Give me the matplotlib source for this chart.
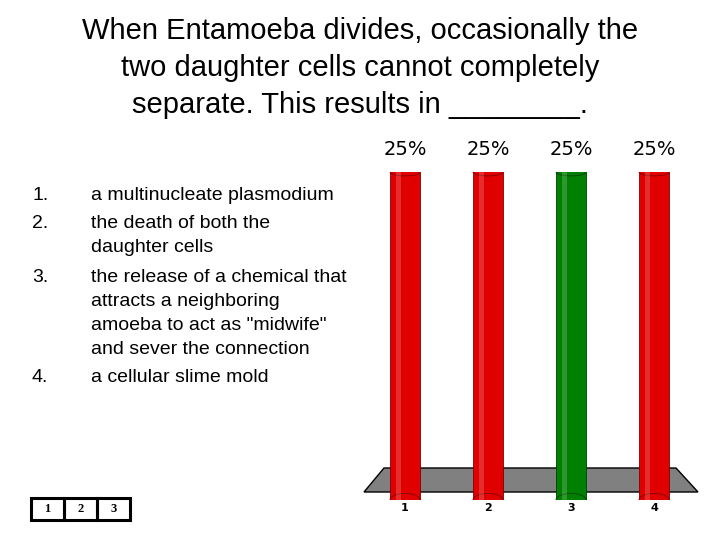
import matplotlib
matplotlib.use("Agg")
import matplotlib.pyplot as plt
from matplotlib.patches import Polygon, Ellipse, Rectangle

categorias = ["1", "2", "3", "4"]
porcentajes = [25, 25, 25, 25]
colores = ["#e00000", "#e00000", "#008000", "#e00000"]
numeros = ["1.", "2.", "3.", "4."]
respuestas = [
    "a multinucleate plasmodium",
    "the death of both the\ndaughter cells",
    "the release of a chemical that\nattracts a neighboring\namoeba to act as \"midwife\"\nand sever the connection",
    "a cellular slime mold",
]
cajas = ["1", "2", "3"]

W, H = 720, 540
fig = plt.figure(figsize=(7.2, 5.4), dpi=100)
fig.patch.set_facecolor("white")
FONT = "Liberation Sans"

# fondo en coordenadas de pixel
bg = fig.add_axes([0, 0, 1, 1])
bg.set_xlim(0, W)
bg.set_ylim(H, 0)
bg.axis("off")

bg.text(360, 68, "When Entamoeba divides, occasionally the\ntwo daughter cells cannot completely\nseparate. This results in ________.",
        ha="center", va="center", fontsize=21, family=FONT, linespacing=1.4)

# lista de respuestas
ys = [196, 224, 278, 378]
for n, r, y in zip(numeros, respuestas, ys):
    bg.text(32, y, n, ha="left", va="center", fontsize=14, family=FONT)
    for k, linea in enumerate(r.split("\n")):
        bg.text(91, y + 24 * k, linea, ha="left", va="center", fontsize=14, family=FONT)

# cajas de teclado
for i, c in enumerate(cajas):
    x0 = 31 + i * 33
    bg.add_patch(Rectangle((x0, 498), 33, 22, fill=False, lw=2.2, ec="black"))
    bg.text(x0 + 16.5, 509, c, ha="center", va="center", fontsize=9,
            family="Liberation Serif", weight="bold")

# piso gris
bg.add_patch(Polygon([(384, 468), (676, 468), (698, 492), (364, 492)],
                     closed=True, fc="#808080", ec="black", lw=1))

# barras
x_pos = [405, 488, 571, 654]
top, base = 172, 500
ax = fig.add_axes([0, 1 - base / H, 1, (base - top) / H])
ax.set_xlim(0, W)
ax.set_ylim(0, 25)
ax.axis("off")
ax.patch.set_alpha(0)
bars = ax.bar(x_pos, porcentajes, width=30, color=colores, lw=0.6, zorder=2)
for b, col in zip(bars, colores):
    b.set_edgecolor("#004000" if col == "#008000" else "#800000")
    cx = b.get_x() + b.get_width() / 2
    ax.add_patch(Ellipse((cx, 0), 30, 1.0, fc=col, ec=b.get_edgecolor(), lw=0.6, zorder=3))
    ax.add_patch(Ellipse((cx, b.get_height()), 30, 0.6, fc=col, ec=b.get_edgecolor(), lw=0.6, zorder=3))
    # brillo
    ax.add_patch(Rectangle((cx - 9, 0), 5, b.get_height(), fc="white", alpha=0.18, lw=0, zorder=3))
    ax.text(cx, b.get_height() + 1.0, f"{b.get_height():.0f}%", ha="center", va="bottom",
            fontsize=14, family="DejaVu Sans")

for x, c in zip(x_pos, categorias):
    bg.text(x, 508, c, ha="center", va="center", fontsize=8, weight="bold", family="DejaVu Sans")

fig.savefig("out.png", dpi=100)
